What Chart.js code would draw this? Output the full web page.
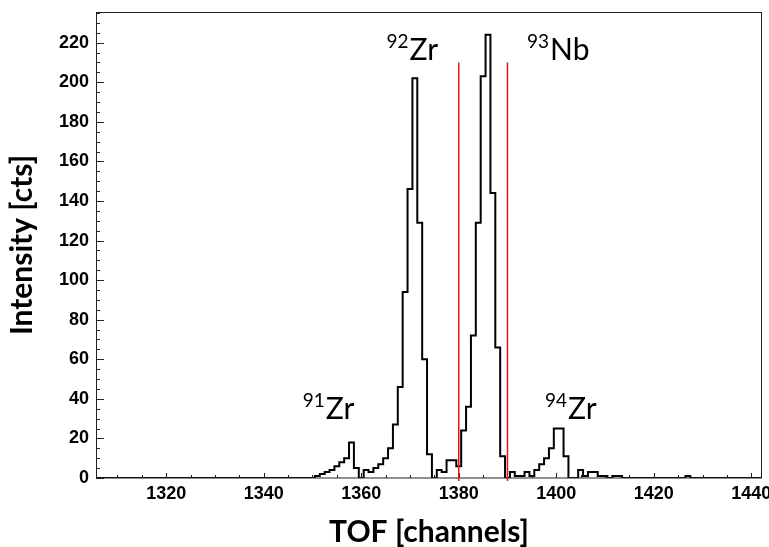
<!DOCTYPE html>
<html>
<head>
<meta charset="utf-8">
<script src="https://cdn.jsdelivr.net/npm/chart.js@4.4.0/dist/chart.umd.min.js"></script>
<style>
    html, body { margin: 0; padding: 0; background: #fff; }
</style>
</head>
<body>
<canvas id="tofChart" width="769" height="547"></canvas>
<script>
// TOF spectrum, one bin per channel, counts
const firstChannel = 1350;
const counts = [
    0, 1, 2, 3, 4, 6, 8, 10, 18, 5,            // 1350-1359
    0, 4, 3, 5, 7, 10, 15, 27, 46, 94,         // 1360-1369
    146, 202, 129, 60, 12, 0, 4, 3, 9, 9,      // 1370-1379
    6, 24, 36, 72, 129, 203, 224, 144, 66, 11, // 1380-1389
    0, 3, 1, 1, 3, 1, 4, 7, 10, 15,            // 1390-1399
    25, 25, 11, 0, 0, 4, 1, 3, 3, 1,           // 1400-1409
    1, 0, 1, 1, 0, 0, 0, 0, 0, 0,              // 1410-1419
    0, 0, 0, 0, 0, 0, 0, 1, 0, 0               // 1420-1429
];
const xTickLabels = [1320, 1340, 1360, 1380, 1400, 1420, 1440];
const yTickLabels = [0, 20, 40, 60, 80, 100, 120, 140, 160, 180, 200, 220];
const gateChannels = [1380, 1390];
const gateHeight = 210;
const peakMasses = ['91', '92', '93', '94'];
const peakElements = ['Zr', 'Zr', 'Nb', 'Zr'];

// axis ranges and label anchors (data coordinates)
const xMin = 1305.6, xMax = 1442.2;
const yMin = 0, yMax = 235.5;
const labelAnchors = [
    { x: 1348.0, y: 30 },
    { x: 1365.2, y: 211 },
    { x: 1394.0, y: 211 },
    { x: 1397.7, y: 30 }
];

// histogram points over the whole axis, zero outside the filled bins
const histPoints = [];
for (let ch = Math.floor(xMin); ch <= Math.ceil(xMax) + 1; ch++) {
    const i = ch - firstChannel;
    histPoints.push({ x: ch, y: (i >= 0 && i < counts.length) ? counts[i] : 0 });
}

const decorPlugin = {
    id: 'decor',
    afterDatasetsDraw(chart) {
        const { ctx, chartArea: a, scales } = chart;
        const x = scales.x, y = scales.y;
        ctx.save();

        // frame
        ctx.strokeStyle = '#222';
        ctx.lineWidth = 1;
        ctx.strokeRect(a.left + 0.5, a.top + 0.5, a.right - a.left - 1, a.bottom - a.top - 0.5);

        // inward ticks, major and minor
        ctx.beginPath();
        for (let v = 0; v <= yMax; v += 5) {
            const py = Math.round(y.getPixelForValue(v)) + 0.5;
            const len = (v % 20 === 0) ? 8 : 4;
            ctx.moveTo(a.left, py);
            ctx.lineTo(a.left + len, py);
        }
        for (let v = 1310; v <= xMax; v += 5) {
            const px = Math.round(x.getPixelForValue(v)) + 0.5;
            const len = (v % 20 === 0) ? 5 : 3;
            ctx.moveTo(px, a.bottom);
            ctx.lineTo(px, a.bottom - len);
        }
        ctx.stroke();

        // gate lines
        ctx.strokeStyle = '#e8141c';
        ctx.lineWidth = 1.5;
        gateChannels.forEach(function(g) {
            const px = x.getPixelForValue(g);
            ctx.beginPath();
            ctx.moveTo(px, y.getPixelForValue(gateHeight));
            ctx.lineTo(px, a.bottom + 3);
            ctx.stroke();
        });

        // isotope labels
        ctx.fillStyle = '#000';
        ctx.textBaseline = 'alphabetic';
        peakMasses.forEach(function(m, i) {
            const px = x.getPixelForValue(labelAnchors[i].x);
            const py = y.getPixelForValue(labelAnchors[i].y);
            ctx.font = '19px Lato';
            ctx.fillText(m, px, py - 12);
            const w = ctx.measureText(m).width;
            ctx.font = '30px Lato';
            ctx.fillText(peakElements[i], px + w + 1, py);
        });

        ctx.restore();
    }
};

const ctx = document.getElementById('tofChart').getContext('2d');
new Chart(ctx, {
    type: 'line',
    data: {
        datasets: [{
            data: histPoints,
            stepped: 'middle',
            borderColor: '#000',
            borderWidth: 2,
            pointRadius: 0,
            fill: false
        }]
    },
    options: {
        responsive: false,
        animation: false,
        layout: { padding: { top: 12, right: 7, left: 0, bottom: 0 } },
        plugins: {
            legend: { display: false },
            tooltip: { enabled: false }
        },
        scales: {
            x: {
                type: 'linear',
                min: xMin,
                max: xMax,
                afterBuildTicks: function(scale) {
                    scale.ticks = xTickLabels.map(v => ({ value: v }));
                },
                afterFit: function(scale) {
                    scale.height = 69;
                    scale.paddingLeft = 0;
                    scale.paddingRight = 0;
                },
                grid: { display: false, drawTicks: false },
                border: { display: false },
                ticks: {
                    padding: 5,
                    color: '#000',
                    maxRotation: 0,
                    callback: function(value) { return String(value); },
                    font: { family: 'Liberation Sans', weight: 'bold', size: 18 }
                },
                title: {
                    display: true,
                    text: 'TOF [channels]',
                    color: '#000',
                    padding: { top: 0, bottom: 0 },
                    font: { family: 'Lato', weight: 'bold', size: 30, lineHeight: 1 }
                }
            },
            y: {
                min: yMin,
                max: yMax,
                afterBuildTicks: function(scale) {
                    scale.ticks = yTickLabels.map(v => ({ value: v }));
                },
                afterFit: function(scale) {
                    scale.width = 96;
                    scale.paddingTop = 0;
                    scale.paddingBottom = 0;
                },
                grid: { display: false, drawTicks: false },
                border: { display: false },
                ticks: {
                    padding: 7,
                    color: '#000',
                    font: { family: 'Liberation Sans', weight: 'bold', size: 18 }
                },
                title: {
                    display: true,
                    text: 'Intensity [cts]',
                    color: '#000',
                    padding: { top: 7, bottom: 0 },
                    font: { family: 'Lato', weight: 'bold', size: 30, lineHeight: 1 }
                }
            }
        }
    },
    plugins: [decorPlugin]
});
</script>
</body>
</html>
